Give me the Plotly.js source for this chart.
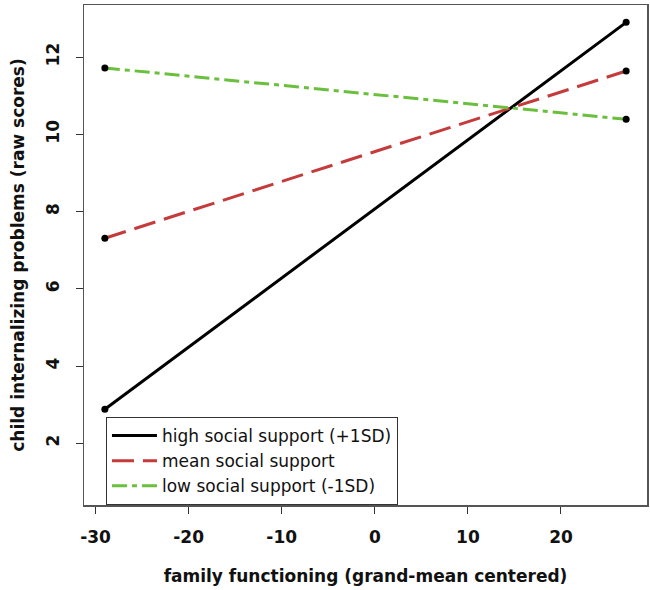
<!DOCTYPE html>
<html>
<head>
<meta charset="utf-8">
<script src="https://cdn.plot.ly/plotly-3.0.1.min.js"></script>
<style>html,body{margin:0;padding:0;background:#fff;}#chart{width:650px;height:590px;}</style>
</head>
<body>
<div id="chart"></div>
<script>
const xLevels = [-29, 27];
const seriesNames = ["high social support (+1SD)", "mean social support", "low social support (-1SD)"];
const highSupport = [2.88, 12.9];
const meanSupport = [7.31, 11.64];
const lowSupport = [11.72, 10.39];
const xTicks = [-30, -20, -10, 0, 10, 20];
const yTicks = [2, 4, 6, 8, 10, 12];

const seriesValues = [highSupport, meanSupport, lowSupport];
const colors = ["#000000", "#c53a3a", "#6abf3c"];
const dashes = ["solid", "22px,9px", "15px,5px,5px,5px"];

const traces = [];
seriesValues.forEach((vals, i) => {
  traces.push({
    x: xLevels, y: vals, type: "scatter", mode: "lines",
    name: seriesNames[i],
    line: {color: colors[i], width: 3, dash: dashes[i]}
  });
});
seriesValues.forEach((vals, i) => {
  traces.push({
    x: xLevels, y: vals, type: "scatter", mode: "markers",
    showlegend: false, hoverinfo: "skip",
    marker: {color: "#000", size: 7}
  });
});

const axisFont = {family: "DejaVu Sans", size: 17, color: "#111", weight: "bold"};
const layout = {
  width: 650, height: 590,
  margin: {l: 84, r: 3, t: 5, b: 85},
  paper_bgcolor: "#fff", plot_bgcolor: "#fff",
  showlegend: true,
  font: {family: "DejaVu Sans", color: "#111"},
  xaxis: {
    range: [-31.24, 29.24], tickvals: xTicks, ticktext: xTicks.map(String),
    showgrid: false, zeroline: false,
    showline: true, mirror: true, linecolor: "#555", linewidth: 1.5,
    ticks: "outside", ticklen: 7, tickcolor: "#333", tickwidth: 1,
    tickfont: axisFont, ticklabelstandoff: 9,
    title: {text: "family functioning (grand-mean centered)", font: axisFont, standoff: 24}
  },
  yaxis: {
    range: [0.4, 13.35], tickvals: yTicks, ticktext: yTicks.map(String),
    showgrid: false, zeroline: false,
    showline: true, mirror: true, linecolor: "#555", linewidth: 1.5,
    ticks: "outside", ticklen: 7, tickcolor: "#333", tickwidth: 1,
    tickangle: -90,
    tickfont: axisFont, ticklabelstandoff: 10,
    title: {text: "child internalizing problems (raw scores)", font: axisFont, standoff: 14}
  },
  legend: {
    x: 0.039, y: 0, xanchor: "left", yanchor: "bottom",
    bgcolor: "#fff", bordercolor: "#333", borderwidth: 1,
    font: {family: "DejaVu Sans", size: 17, color: "#111"},
    tracegroupgap: 0, itemwidth: 45
  }
};

Plotly.newPlot("chart", traces, layout, {displayModeBar: false, staticPlot: true});
</script>
</body>
</html>
